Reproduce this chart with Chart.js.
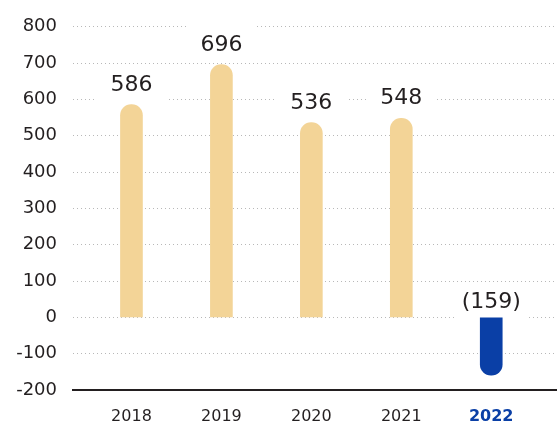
<!DOCTYPE html>
<html>
<head>
<meta charset="utf-8">
<script src="https://cdn.jsdelivr.net/npm/chart.js@4/dist/chart.umd.min.js"></script>
<style>
  html, body { margin: 0; padding: 0; background: #fff; }
  #wrap { width: 558px; height: 423px; }
</style>
</head>
<body>
<div id="wrap"><canvas id="profitChart"></canvas></div>
<script>
const years = ['2018', '2019', '2020', '2021', '2022'];
const values = [586, 696, 536, 548, -159];
const yTicks = [-200, -100, 0, 100, 200, 300, 400, 500, 600, 700, 800];

const beige = '#F3D497';
const blue = '#0A3FA6';
const ink = '#231F20';
const font = 'DejaVu Sans';

const fmt = v => v < 0 ? '(' + Math.abs(v) + ')' : String(v);

// label position for a bar: above the top for positives, above zero for negatives
function labelBase(chart, bar, v) {
    const y0 = chart.scales.y.getPixelForValue(0);
    return v >= 0 ? bar.y - 14 : y0 - 9;
}

const valueLabels = {
    id: 'valueLabels',
    beforeDatasetsDraw(chart) {
        const ctx = chart.ctx;
        ctx.save();
        ctx.fillStyle = '#fff';
        chart.getDatasetMeta(0).data.forEach((bar, i) => {
            const b = labelBase(chart, bar, values[i]);
            ctx.fillRect(bar.x - 35, b - 26, 70, 37);
        });
        ctx.restore();
    },
    afterDatasetsDraw(chart) {
        const ctx = chart.ctx;
        ctx.save();
        ctx.font = '22px "' + font + '"';
        ctx.fillStyle = ink;
        ctx.textAlign = 'center';
        ctx.textBaseline = 'alphabetic';
        chart.getDatasetMeta(0).data.forEach((bar, i) => {
            ctx.fillText(fmt(values[i]), bar.x, labelBase(chart, bar, values[i]));
        });
        ctx.restore();
    }
};

const ctxProfit = document.getElementById('profitChart').getContext('2d');
new Chart(ctxProfit, {
    type: 'bar',
    data: {
        datasets: [{
            data: values.map((v, i) => ({ x: i, y: v })),
            backgroundColor: values.map(v => v < 0 ? blue : beige),
            barThickness: 22,
            borderRadius: 11,
            borderSkipped: 'start'
        }]
    },
    options: {
        responsive: true,
        maintainAspectRatio: false,
        animation: false,
        layout: { padding: { top: 8, right: 2, left: 0, bottom: 0 } },
        plugins: { legend: { display: false }, tooltip: { enabled: false } },
        scales: {
            x: {
                type: 'linear',
                offset: false,
                min: -0.65,
                max: 4.72,
                afterBuildTicks: s => { s.ticks = years.map((_, i) => ({ value: i })); },
                afterFit: s => { s.height = 33; },
                grid: { display: false, offset: false },
                border: { display: true, color: ink, width: 2 },
                ticks: {
                    padding: 9,
                    maxRotation: 0,
                    minRotation: 0,
                    autoSkip: false,
                    callback: v => years[v],
                    color: c => c.index === 4 ? blue : ink,
                    font: c => ({ family: font, size: 16, weight: c.index === 4 ? 'bold' : 'normal' })
                }
            },
            y: {
                min: -200,
                max: 800,
                afterBuildTicks: s => { s.ticks = yTicks.map(v => ({ value: v })); },
                afterFit: s => { s.width = 73; },
                grid: {
                    drawTicks: false,
                    color: c => c.tick && c.tick.value === -200 ? 'rgba(0,0,0,0)' : '#b8b8b8',
                    lineWidth: 1
                },
                border: { display: false, dash: [1, 3] },
                ticks: {
                    padding: 16,
                    color: ink,
                    font: { family: font, size: 18 }
                }
            }
        }
    },
    plugins: [valueLabels]
});
</script>
</body>
</html>
